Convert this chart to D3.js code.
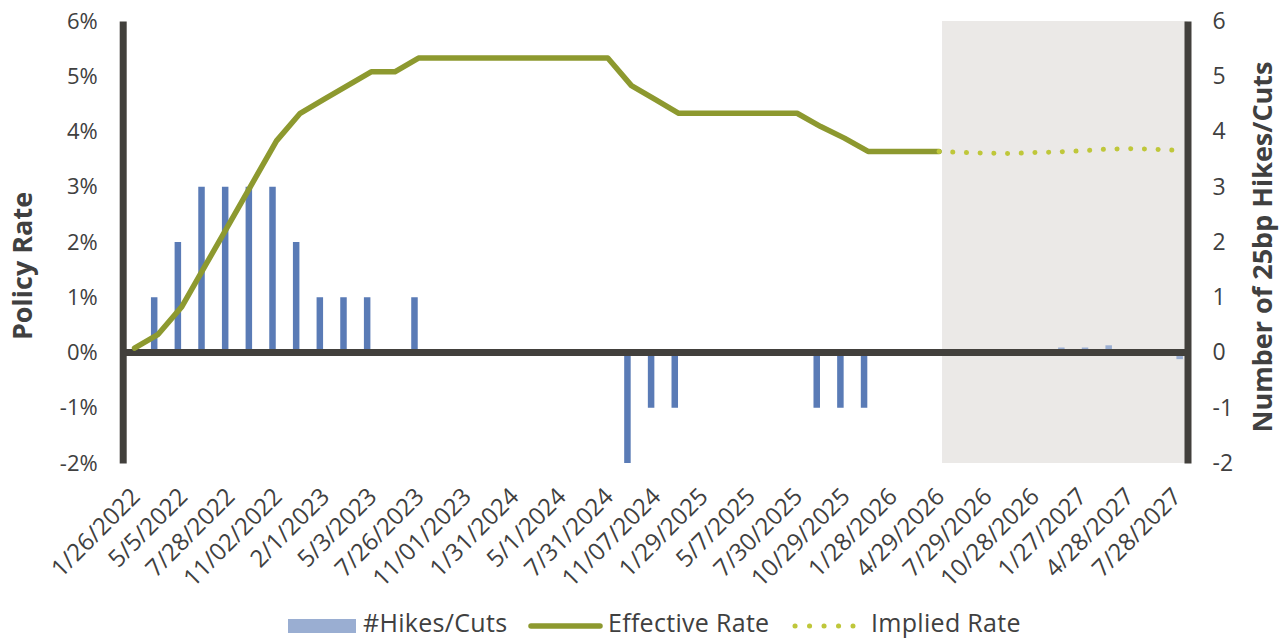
<!DOCTYPE html>
<html>
<head>
<meta charset="utf-8">
<script src="https://cdn.jsdelivr.net/npm/d3@7"></script>
<style>
  body { margin: 0; background: #fff; }
  svg { display: block; font-family: "Open Sans", Lato, sans-serif; }
</style>
</head>
<body>
<svg id="chart" width="1286" height="639"></svg>
<script>
// FOMC meeting dates (every other one gets a label)
var meetings = ["1/26/2022", "3/16/2022", "5/5/2022", "6/15/2022", "7/28/2022", "9/21/2022", "11/02/2022", "12/14/2022",
    "2/1/2023", "3/22/2023", "5/3/2023", "6/14/2023", "7/26/2023", "9/20/2023", "11/01/2023", "12/13/2023",
    "1/31/2024", "3/20/2024", "5/1/2024", "6/12/2024", "7/31/2024", "9/18/2024", "11/07/2024", "12/18/2024",
    "1/29/2025", "3/19/2025", "5/7/2025", "6/18/2025", "7/30/2025", "9/17/2025", "10/29/2025", "12/10/2025",
    "1/28/2026", "3/18/2026", "4/29/2026", "6/17/2026", "7/29/2026", "9/16/2026", "10/28/2026", "12/9/2026",
    "1/27/2027", "3/17/2027", "4/28/2027", "6/9/2027", "7/28/2027"];

// effective rate, 1/26/2022 .. 4/29/2026
var effectiveRate = [0.08, 0.33, 0.83, 1.58, 2.33, 3.08, 3.83, 4.33,
    4.58, 4.83, 5.08, 5.08, 5.33, 5.33, 5.33, 5.33,
    5.33, 5.33, 5.33, 5.33, 5.33, 4.83, 4.58, 4.33,
    4.33, 4.33, 4.33, 4.33, 4.33, 4.09, 3.88, 3.64,
    3.64, 3.64, 3.64];

// market implied rate, 4/29/2026 .. 7/28/2027
var impliedRate = [3.64, 3.62, 3.61, 3.60, 3.62, 3.63, 3.65, 3.68, 3.69, 3.68, 3.66];

// number of 25bp moves, 1/26/2022 .. 4/29/2026
var hikesCuts = [0, 1, 2, 3, 3, 3, 3, 2,
    1, 1, 1, 0, 1, 0, 0, 0,
    0, 0, 0, 0, 0, -2, -1, -1,
    0, 0, 0, 0, 0, -1, -1, -1,
    0, 0, 0];

// implied number of moves, 6/17/2026 .. 7/28/2027
var impliedHikesCuts = [0, 0, 0, 0, 0.09, 0.09, 0.13, 0, 0, -0.12];

var leftTicks = [-2, -1, 0, 1, 2, 3, 4, 5, 6];
var rightTicks = [-2, -1, 0, 1, 2, 3, 4, 5, 6];

var axisColor = '#42403c';
var textColor = '#404040';

document.addEventListener('DOMContentLoaded', function () {
    drawChart();
});

function drawChart() {
    var svg = d3.select('#chart');

    var x = d3.scaleBand().domain(meetings).range([122.7, 1187.5]);
    var y = d3.scaleLinear().domain([-2, 6]).range([463, 21]);
    var yRight = d3.scaleLinear().domain([-2, 6]).range([463, 21]);
    var cx = function (d) { return x(d) + x.bandwidth() / 2; };

    var effData = effectiveRate.map(function (v, i) { return { date: meetings[i], value: v }; });
    var impStart = effectiveRate.length - 1;
    var impData = impliedRate.map(function (v, i) { return { date: meetings[impStart + i], value: v }; });
    var barData = hikesCuts.map(function (v, i) { return { date: meetings[i], value: v }; });
    var impBarData = impliedHikesCuts.map(function (v, i) { return { date: meetings[impStart + 1 + i], value: v }; });

    // shaded forecast zone
    svg.append('rect')
        .attr('x', cx(meetings[impStart]) + 3)
        .attr('y', y(6))
        .attr('width', x.range()[1] - cx(meetings[impStart]) - 3)
        .attr('height', y(-2) - y(6))
        .attr('fill', '#ebe9e7');

    // bars
    var barW = 6.5;
    svg.selectAll('.bar')
        .data(barData.filter(function (d) { return d.value != 0; }))
        .enter()
        .append('rect')
        .attr('class', 'bar')
        .attr('x', function (d) { return cx(d.date) - 4 - barW / 2; })
        .attr('y', function (d) { return yRight(Math.max(0, d.value)); })
        .attr('width', barW)
        .attr('height', function (d) { return Math.abs(yRight(d.value) - yRight(0)); })
        .attr('fill', '#5a7bb6');

    svg.selectAll('.impBar')
        .data(impBarData.filter(function (d) { return d.value != 0; }))
        .enter()
        .append('rect')
        .attr('class', 'impBar')
        .attr('x', function (d) { return cx(d.date) + 4 - barW / 2; })
        .attr('y', function (d) { return yRight(Math.max(0, d.value)); })
        .attr('width', barW)
        .attr('height', function (d) { return Math.abs(yRight(d.value) - yRight(0)); })
        .attr('fill', '#9aaed2');

    // zero line
    svg.append('line')
        .attr('x1', x.range()[0]).attr('x2', x.range()[1])
        .attr('y1', y(0)).attr('y2', y(0))
        .style('stroke', axisColor)
        .style('stroke-width', 7);

    // left axis
    var gl = svg.append('g')
        .attr('transform', 'translate(' + x.range()[0] + ',0)')
        .call(d3.axisLeft(y).tickValues(leftTicks).tickSize(0).tickSizeOuter(0).tickPadding(25)
            .tickFormat(function (d) { return d + '%'; }));
    gl.select('.domain').style('stroke', axisColor).style('stroke-width', 7);
    gl.selectAll('text').style('font-size', '22px').style('fill', textColor).style('font-family', 'Open Sans');

    // right axis
    var gr = svg.append('g')
        .attr('transform', 'translate(' + x.range()[1] + ',0)')
        .call(d3.axisRight(yRight).tickValues(rightTicks).tickSize(0).tickSizeOuter(0).tickPadding(25)
            .tickFormat(function (d) { return String(d); }));
    gr.select('.domain').style('stroke', axisColor).style('stroke-width', 7);
    gr.selectAll('text').style('font-size', '23px').style('fill', textColor).style('font-family', 'Open Sans');

    // bottom labels
    var gb = svg.append('g')
        .attr('transform', 'translate(0,' + y(-2) + ')')
        .call(d3.axisBottom(x).tickValues(meetings.filter(function (d, i) { return i % 2 == 0; })).tickSize(0));
    gb.select('.domain').remove();
    gb.selectAll('text')
        .attr('x', 0).attr('y', 0).attr('dy', 0)
        .attr('transform', 'translate(7,35) rotate(-45)')
        .style('text-anchor', 'end')
        .style('font-size', '24px')
        .style('fill', textColor)
        .style('font-family', 'Open Sans');

    // effective rate line
    var line = d3.line()
        .x(function (d) { return cx(d.date); })
        .y(function (d) { return y(d.value); });

    svg.append('path')
        .datum(effData)
        .attr('d', line)
        .attr('fill', 'none')
        .style('stroke', '#8d992f')
        .style('stroke-width', 5.5)
        .style('stroke-linejoin', 'round')
        .style('stroke-linecap', 'round');

    svg.append('path')
        .datum(impData)
        .attr('d', line)
        .attr('fill', 'none')
        .style('stroke', '#bfc73a')
        .style('stroke-width', 5)
        .style('stroke-linecap', 'round')
        .style('stroke-dasharray', '0.1 13.6');

    // axis titles
    svg.append('text')
        .attr('transform', 'translate(32,266) rotate(-90)')
        .style('text-anchor', 'middle')
        .style('font-size', '27px')
        .style('font-weight', 'bold')
        .style('fill', textColor)
        .text('Policy Rate');

    svg.append('text')
        .attr('transform', 'translate(1272,247) rotate(-90)')
        .style('text-anchor', 'middle')
        .style('font-size', '27px')
        .style('font-weight', 'bold')
        .style('fill', textColor)
        .text('Number of 25bp Hikes/Cuts');

    // legend
    var lg = svg.append('g').attr('transform', 'translate(0,626)');
    lg.append('rect').attr('x', 288).attr('y', -7).attr('width', 68).attr('height', 14).attr('fill', '#9aaed2');
    lg.append('text').attr('x', 363).attr('y', 5.5).text('#Hikes/Cuts');
    lg.append('line').attr('x1', 531).attr('x2', 600).attr('y1', 0).attr('y2', 0)
        .style('stroke', '#8d992f').style('stroke-width', 5.5).style('stroke-linecap', 'round');
    lg.append('text').attr('x', 608).attr('y', 5.5).text('Effective Rate');
    lg.append('line').attr('x1', 795).attr('x2', 853).attr('y1', 0).attr('y2', 0)
        .style('stroke', '#bfc73a').style('stroke-width', 5).style('stroke-linecap', 'round')
        .style('stroke-dasharray', '0.1 14.4');
    lg.append('text').attr('x', 871).attr('y', 5.5).text('Implied Rate');
    lg.selectAll('text').style('font-size', '25px').style('letter-spacing', '0.3px').style('fill', textColor);
}
</script>
</body>
</html>
